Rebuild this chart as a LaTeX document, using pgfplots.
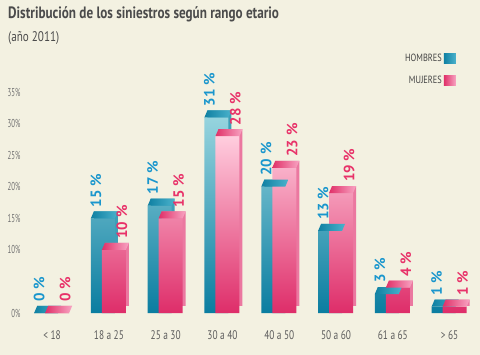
\documentclass[border=0pt]{standalone}
\usepackage{pgfplots}
\pgfplotsset{compat=1.18}
\usepackage{fontspec}
\setmainfont{PT Sans}
\newfontfamily\condfont[FakeStretch=0.8]{PT Sans}
\newfontfamily\tickfont[FakeStretch=0.75]{PT Sans}
\newfontfamily\yfont[FakeStretch=0.6]{PT Sans}
\definecolor{bg}{RGB}{243,241,225}
\definecolor{bluelab}{RGB}{25,150,205}
\definecolor{pinklab}{RGB}{232,50,105}
\definecolor{bluetop}{RGB}{150,212,222}
\definecolor{bluebot}{RGB}{10,125,160}
\definecolor{bluecap}{RGB}{15,128,162}
\definecolor{bluecap2}{RGB}{75,178,204}
\definecolor{blueside}{RGB}{60,160,185}
\definecolor{pinktop}{RGB}{255,205,222}
\definecolor{pinkbot}{RGB}{222,45,105}
\definecolor{pinkcap}{RGB}{224,48,104}
\definecolor{pinkcap2}{RGB}{248,165,195}
\definecolor{pinkside}{RGB}{235,120,160}
\definecolor{titlecol}{RGB}{75,75,75}
\definecolor{tickcol}{RGB}{115,115,115}
\pgfdeclareplotmark{capblue}{%
  \shade[left color=bluecap, right color=bluecap2] (-18bp,0bp) -- (6bp,0bp) -- (9bp,7bp) -- (-15bp,7bp) -- cycle;}
\pgfdeclareplotmark{cappink}{%
  \shade[left color=pinkcap, right color=pinkcap2] (-7bp,0bp) -- (17bp,0bp) -- (20bp,7bp) -- (-4bp,7bp) -- cycle;}
\begin{document}
\begin{tikzpicture}
\fill[bg] (0,0) rectangle (480bp,355bp);
\node[anchor=base west, inner sep=0pt, text=titlecol, font=\condfont\bfseries\fontsize{16.5}{18}\selectfont] at (8bp,336bp) {Distribución de los siniestros según rango etario};
\node[anchor=base west, inner sep=0pt, text=titlecol, font=\condfont\fontsize{14}{16}\selectfont] at (8bp,313bp) {(año 2011)};
\begin{axis}[
  at={(26bp,42bp)}, anchor=south west,
  scale only axis, width=452bp, height=221bp,
  xmin=-0.46, xmax=7.5, ymin=0, ymax=35,
  clip=false,
  axis line style={draw=none},
  major tick length=0pt,
  xtick={0,...,7},
  xticklabels={< 18, 18 a 25, 25 a 30, 30 a 40, 40 a 50, 50 a 60, 61 a 65, > 65},
  xticklabel style={anchor=base, yshift=-26bp, text=titlecol!90, font=\tickfont\fontsize{12.5}{14}\selectfont},
  ytick={0,10,15,20,25,30,35},
  yticklabels={0\%,10\%,15\%,20\%,25\%,30\%,35\%},
  yticklabel style={xshift=-2bp, text=tickcol, font=\yfont\fontsize{11.5}{13}\selectfont},
  /pgf/number format/assume math mode=true,
  legend style={at={(axis description cs:0.958,1.19)}, anchor=north east, draw=none, fill=none,
    font=\condfont\fontsize{10.5}{12}\selectfont, text=titlecol!90!black, row sep=9bp},
  legend cell align=right,
  legend plot pos=right,
]
% hombres
\addplot[ybar, bar width=24bp, bar shift=-6bp, draw=none, fill=blueside, xshift=3bp, yshift=7bp, forget plot]
  coordinates {(0,0) (1,15) (2,17) (3,31) (4,20) (5,13) (6,3) (7,1)};
\addplot[ybar, bar width=24bp, bar shift=-6bp, draw=none, top color=bluetop, bottom color=bluebot,
  legend image code/.code={\shade[left color=bluecap, right color=bluecap2] (0bp,-5bp) rectangle (12bp,5bp);}]
  coordinates {(0,0) (1,15) (2,17) (3,31) (4,20) (5,13) (6,3) (7,1)};
\addlegendentry{HOMBRES}
\addplot[only marks, mark=capblue, mark options={draw opacity=0}, forget plot]
  coordinates {(0,0) (1,15) (2,17) (3,31) (4,20) (5,13) (6,3) (7,1)};
% mujeres
\addplot[ybar, bar width=24bp, bar shift=5bp, draw=none, fill=pinkside, xshift=3bp, yshift=7bp, forget plot]
  coordinates {(0,0) (1,10) (2,15) (3,28) (4,23) (5,19) (6,4) (7,1)};
\addplot[ybar, bar width=24bp, bar shift=5bp, draw=none, top color=pinktop, bottom color=pinkbot,
  legend image code/.code={\shade[left color=pinkcap, right color=pinkcap2] (0bp,-5bp) rectangle (12bp,5bp);}]
  coordinates {(0,0) (1,10) (2,15) (3,28) (4,23) (5,19) (6,4) (7,1)};
\addlegendentry{MUJERES}
\addplot[only marks, mark=cappink, mark options={draw opacity=0}, forget plot]
  coordinates {(0,0) (1,10) (2,15) (3,28) (4,23) (5,19) (6,4) (7,1)};
% value labels
\addplot[only marks, mark=none, forget plot,
  nodes near coords={\pgfmathprintnumber{\pgfplotspointmeta} \%},
  every node near coord/.style={shift={(-13bp,10bp)}, rotate=90, anchor=west, inner sep=1pt, text=bluelab,
    font=\bfseries\fontsize{15}{17}\selectfont}]
  coordinates {(0,0) (1,15) (2,17) (3,31) (4,20) (5,13) (6,3) (7,1)};
\addplot[only marks, mark=none, forget plot,
  nodes near coords={\pgfmathprintnumber{\pgfplotspointmeta} \%},
  every node near coord/.style={shift={(13bp,10bp)}, rotate=90, anchor=west, inner sep=1pt, text=pinklab,
    font=\bfseries\fontsize{15}{17}\selectfont}]
  coordinates {(0,0) (1,10) (2,15) (3,28) (4,23) (5,19) (6,4) (7,1)};
\end{axis}
\pgfresetboundingbox
\path[use as bounding box] (0,0) rectangle (480bp,355bp);
\end{tikzpicture}
\end{document}
